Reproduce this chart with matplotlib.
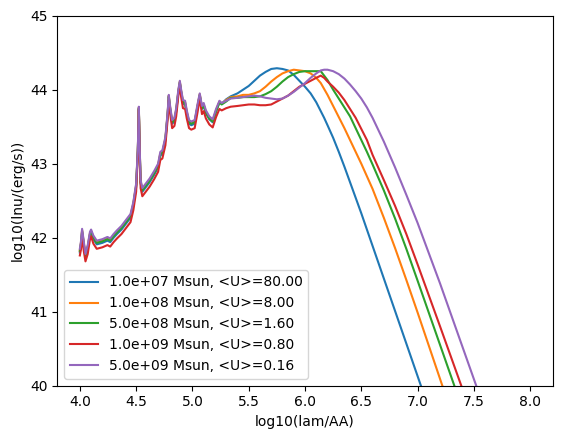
import matplotlib
matplotlib.use('Agg')
import matplotlib.pyplot as plt

# wavelength grid, log10(lam/AA)
lam_pah = [4.000, 4.010, 4.020, 4.035, 4.050, 4.070, 4.090, 4.100, 4.120, 4.150,
           4.200, 4.245, 4.270, 4.300, 4.330, 4.370, 4.410, 4.450, 4.475, 4.500,
           4.515, 4.524, 4.532, 4.540, 4.555, 4.580, 4.620, 4.660, 4.695, 4.715,
           4.733, 4.760, 4.780, 4.790, 4.800, 4.820, 4.840, 4.856, 4.875, 4.888,
           4.900, 4.916, 4.935, 4.950, 4.970, 4.990, 5.020, 5.045, 5.065, 5.085,
           5.100, 5.120, 5.150, 5.180, 5.210, 5.240, 5.260, 5.300]
lam_far = [5.34, 5.40, 5.45, 5.50, 5.55, 5.60, 5.65, 5.70, 5.75, 5.80,
           5.85, 5.90, 5.95, 6.00, 6.05, 6.10, 6.14, 6.17, 6.20, 6.25,
           6.30, 6.35, 6.40, 6.45, 6.50, 6.55, 6.60, 6.70, 6.80, 6.90,
           7.00, 7.20, 7.40, 7.60, 8.00]
lam = lam_pah + lam_far

labels = ['1.0e+07 Msun, <U>=80.00',
          '1.0e+08 Msun, <U>=8.00',
          '5.0e+08 Msun, <U>=1.60',
          '1.0e+09 Msun, <U>=0.80',
          '5.0e+09 Msun, <U>=0.16']

# log10(lnu/(erg/s)) for each model
lnu_1e7 = [41.80, 41.90, 42.07, 41.90, 41.73, 41.85, 42.03, 42.06, 41.98, 41.91,
           41.93, 41.96, 41.94, 42.00, 42.05, 42.11, 42.19, 42.27, 42.43, 42.68,
           43.16, 43.74, 43.16, 42.73, 42.62, 42.67, 42.75, 42.85, 42.95, 43.11,
           43.13, 43.31, 43.66, 43.90, 43.75, 43.54, 43.57, 43.70, 43.96, 44.09,
           43.96, 43.81, 43.80, 43.67, 43.54, 43.52, 43.54, 43.76, 43.92, 43.74,
           43.78, 43.68, 43.60, 43.56, 43.70, 43.83, 43.81, 43.87,
           43.91, 43.95, 44.00, 44.05, 44.12, 44.19, 44.24, 44.28, 44.29, 44.28,
           44.26, 44.20, 44.12, 44.04, 43.95, 43.83, 43.71, 43.62, 43.52, 43.35,
           43.16, 42.96, 42.75, 42.54, 42.33, 42.11, 41.89, 41.45, 41.01, 40.57,
           40.13, 39.25, 38.37, 37.49, 35.73]
lnu_1e8 = [41.83, 41.93, 42.10, 41.93, 41.76, 41.88, 42.06, 42.09, 42.01, 41.94,
           41.96, 41.99, 41.97, 42.03, 42.08, 42.14, 42.22, 42.30, 42.46, 42.71,
           43.18, 43.76, 43.18, 42.76, 42.65, 42.70, 42.78, 42.88, 42.98, 43.14,
           43.16, 43.34, 43.68, 43.92, 43.78, 43.57, 43.60, 43.73, 43.98, 44.11,
           43.98, 43.84, 43.83, 43.70, 43.57, 43.55, 43.57, 43.78, 43.94, 43.76,
           43.80, 43.70, 43.62, 43.58, 43.72, 43.84, 43.81, 43.86,
           43.90, 43.91, 43.93, 43.93, 43.95, 43.98, 44.04, 44.11, 44.17, 44.22,
           44.25, 44.27, 44.26, 44.25, 44.22, 44.16, 44.09, 44.01, 43.93, 43.78,
           43.63, 43.48, 43.32, 43.16, 43.00, 42.83, 42.66, 42.27, 41.86, 41.43,
           40.99, 40.09, 39.19, 38.29, 36.49]
lnu_5e8 = [41.82, 41.92, 42.09, 41.92, 41.75, 41.87, 42.05, 42.08, 42.00, 41.93,
           41.95, 41.98, 41.96, 42.02, 42.07, 42.13, 42.21, 42.29, 42.45, 42.70,
           43.17, 43.75, 43.17, 42.75, 42.64, 42.69, 42.77, 42.87, 42.97, 43.13,
           43.15, 43.33, 43.67, 43.91, 43.77, 43.56, 43.59, 43.72, 43.97, 44.10,
           43.97, 43.83, 43.82, 43.69, 43.56, 43.54, 43.56, 43.77, 43.93, 43.75,
           43.79, 43.69, 43.61, 43.57, 43.71, 43.83, 43.80, 43.84,
           43.89, 43.89, 43.90, 43.90, 43.90, 43.91, 43.94, 43.98, 44.04, 44.11,
           44.17, 44.21, 44.24, 44.25, 44.25, 44.25, 44.25, 44.19, 44.13, 44.00,
           43.88, 43.76, 43.64, 43.48, 43.32, 43.16, 42.99, 42.64, 42.26, 41.85,
           41.42, 40.55, 39.68, 38.80, 37.05]
lnu_1e9 = [41.76, 41.84, 42.02, 41.82, 41.68, 41.78, 41.98, 42.02, 41.92, 41.85,
           41.87, 41.90, 41.88, 41.94, 41.99, 42.05, 42.13, 42.21, 42.37, 42.62,
           43.12, 43.73, 43.12, 42.67, 42.56, 42.61, 42.69, 42.79, 42.89, 43.05,
           43.07, 43.25, 43.60, 43.86, 43.70, 43.48, 43.51, 43.64, 43.92, 44.07,
           43.90, 43.75, 43.74, 43.61, 43.48, 43.46, 43.48, 43.69, 43.88, 43.67,
           43.71, 43.61, 43.53, 43.49, 43.63, 43.74, 43.72, 43.75,
           43.77, 43.78, 43.79, 43.80, 43.80, 43.79, 43.79, 43.80, 43.84, 43.88,
           43.92, 43.98, 44.04, 44.08, 44.12, 44.16, 44.19, 44.16, 44.11, 44.04,
           43.96, 43.86, 43.74, 43.62, 43.47, 43.32, 43.12, 42.78, 42.43, 42.05,
           41.64, 40.80, 39.95, 39.10, 37.40]
lnu_5e9 = [41.85, 41.95, 42.12, 41.95, 41.78, 41.90, 42.08, 42.11, 42.03, 41.96,
           41.98, 42.01, 41.99, 42.05, 42.10, 42.16, 42.24, 42.32, 42.48, 42.73,
           43.20, 43.77, 43.20, 42.78, 42.67, 42.72, 42.80, 42.90, 43.00, 43.16,
           43.18, 43.36, 43.70, 43.93, 43.80, 43.59, 43.62, 43.75, 44.00, 44.12,
           44.00, 43.86, 43.85, 43.72, 43.59, 43.57, 43.59, 43.80, 43.95, 43.78,
           43.82, 43.72, 43.64, 43.60, 43.74, 43.85, 43.82, 43.85,
           43.88, 43.89, 43.90, 43.91, 43.92, 43.91, 43.89, 43.88, 43.87, 43.88,
           43.92, 43.97, 44.03, 44.09, 44.16, 44.22, 44.26, 44.27, 44.27, 44.25,
           44.21, 44.15, 44.07, 43.98, 43.88, 43.76, 43.62, 43.30, 42.95, 42.58,
           42.20, 41.38, 40.52, 39.66, 37.95]

series = [lnu_1e7, lnu_1e8, lnu_5e8, lnu_1e9, lnu_5e9]

plt.figure(figsize=(5.62, 4.38), dpi=100)
for lnu, lab in zip(series, labels):
    plt.plot(lam, lnu, label=lab)
plt.xlabel('log10(lam/AA)')
plt.ylabel('log10(lnu/(erg/s))')
plt.ylim(40, 45)
plt.legend(loc='lower left')
plt.subplots_adjust(left=0.102, right=0.9834, bottom=0.1194, top=0.9642)
plt.savefig('out.png')
